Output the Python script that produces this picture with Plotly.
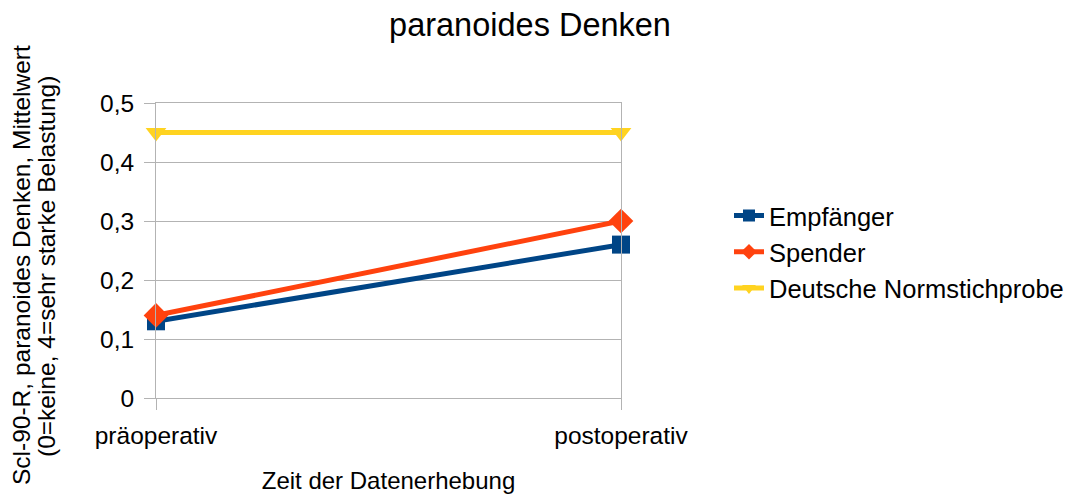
import plotly.graph_objects as go

categories = ["präoperativ", "postoperativ"]
empfaenger = [0.13, 0.26]
spender = [0.14, 0.30]
normstichprobe = [0.45, 0.45]
y_ticks = [0, 0.1, 0.2, 0.3, 0.4, 0.5]
y_tick_labels = ["0", "0,1", "0,2", "0,3", "0,4", "0,5"]

FONT = "Liberation Sans, Arial, sans-serif"
GRID = "#b3b3b3"

# page body has an 8px margin; figure sized so it ends at the window edges
OFF = 8
W, H = 1075 - OFF, 494 - OFF
L = 156 - OFF
T = 103 - OFF
R = W - (621 - OFF)
B = H - (398 - OFF)
pw = W - L - R
ph = H - T - B


def px_x(x):
    return (x - OFF - L) / pw


def px_y(y):
    return (H - B - (y - OFF)) / ph


fig = go.Figure()
fig.add_trace(go.Scatter(x=[0, 1], y=empfaenger, name="Empfänger", mode="lines+markers",
                         line=dict(color="#004586", width=5), cliponaxis=False,
                         marker=dict(symbol="square", size=18, color="#004586")))
fig.add_trace(go.Scatter(x=[0, 1], y=spender, name="Spender", mode="lines+markers",
                         line=dict(color="#ff420e", width=5), cliponaxis=False,
                         marker=dict(symbol="diamond", size=19, color="#ff420e")))
fig.add_trace(go.Scatter(x=[0, 1], y=normstichprobe, name="Deutsche Normstichprobe", mode="lines+markers",
                         line=dict(color="#ffd320", width=5), cliponaxis=False,
                         marker=dict(symbol="triangle-down", size=18, color="#ffd320")))

fig.update_layout(
    width=W, height=H,
    margin=dict(l=L, r=R, t=T, b=B, autoexpand=False),
    paper_bgcolor="white", plot_bgcolor="white",
    font=dict(family=FONT, size=24, color="black"),
    title=dict(text="paranoides Denken", x=(530 - OFF) / W, xanchor="center",
               y=1 - (25 - OFF) / H, yanchor="middle", font=dict(size=32.5, color="black")),
    xaxis=dict(range=[0, 1], tickvals=[0, 1], ticktext=categories,
               showgrid=False, zeroline=False,
               ticks="outside", ticklen=11, tickcolor=GRID,
               showline=True, mirror=True, linecolor=GRID, linewidth=1,
               tickfont=dict(size=24.5), ticklabelstandoff=5,
               title=dict(text="Zeit der Datenerhebung", font=dict(size=24), standoff=25)),
    yaxis=dict(range=[0, 0.5], tickvals=y_ticks, ticktext=y_tick_labels,
               showgrid=True, gridcolor=GRID, gridwidth=1, zeroline=False,
               ticks="outside", ticklen=11, tickcolor=GRID,
               showline=True, mirror=True, linecolor=GRID, linewidth=1,
               tickfont=dict(size=24.5), ticklabelstandoff=5),
    legend=dict(x=px_x(729), xanchor="left", y=px_y(252), yanchor="middle",
                font=dict(size=25.5), itemwidth=30, tracegroupgap=0,
                itemsizing="constant",
                bgcolor="rgba(0,0,0,0)"),
    showlegend=True,
)

fig.add_annotation(text="Scl-90-R, paranoides Denken, Mittelwert", textangle=-90,
                   xref="paper", yref="paper", x=px_x(21), y=px_y(265),
                   xanchor="center", yanchor="middle", showarrow=False, font=dict(size=24.5))
fig.add_annotation(text="(0=keine, 4=sehr starke Belastung)", textangle=-90,
                   xref="paper", yref="paper", x=px_x(46), y=px_y(267),
                   xanchor="center", yanchor="middle", showarrow=False, font=dict(size=24.5))

fig.write_html("out.html")
